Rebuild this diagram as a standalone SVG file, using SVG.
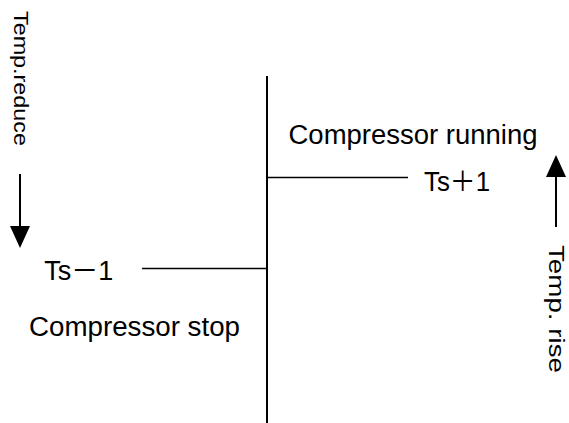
<svg xmlns="http://www.w3.org/2000/svg" width="569" height="423" viewBox="0 0 569 423">
  <style>
    .t { font-family: "Liberation Sans", "Noto Sans CJK SC", sans-serif; font-size: 27px; fill: #000; }
    .v { font-family: "Liberation Sans", sans-serif; fill: #000; }
    .ln { stroke: #000; stroke-width: 1.6; fill: none; }
    .ax { stroke: #000; stroke-width: 2; fill: none; }
  </style>
  <defs>
    <marker id="head" markerUnits="userSpaceOnUse" markerWidth="22" markerHeight="20" refX="12" refY="10" orient="auto">
      <path d="M0,0 L22,10 L0,20 Z" fill="#000"/>
    </marker>
  </defs>
  <rect width="569" height="423" fill="#fff"/>

  <g id="connectors">
    <line id="axis" class="ax" x1="267" y1="76" x2="267" y2="423"/>
    <line id="upper-threshold" class="ln" x1="267" y1="177.5" x2="408" y2="177.5"/>
    <line id="lower-threshold" class="ln" x1="142" y1="268.5" x2="267" y2="268.5"/>
    <line id="arrow-reduce" class="ax" x1="20" y1="174" x2="20" y2="238" marker-end="url(#head)"/>
    <line id="arrow-rise" class="ax" x1="556" y1="227" x2="556" y2="165" marker-end="url(#head)"/>
  </g>

  <g id="temp-reduce">
    <text class="v" font-size="21" transform="translate(14,11) rotate(90)" textLength="135" lengthAdjust="spacingAndGlyphs">Temp.reduce</text>
  </g>
  <g id="temp-rise">
    <text class="v" font-size="22" transform="translate(549,245) rotate(90)" textLength="128" lengthAdjust="spacingAndGlyphs">Temp. rise</text>
  </g>
  <g id="compressor-running">
    <text class="t" x="288.5" y="143.5" textLength="249" lengthAdjust="spacingAndGlyphs">Compressor running</text>
  </g>
  <g id="ts-plus">
    <text class="t" x="424" y="191" textLength="66" lengthAdjust="spacingAndGlyphs">Ts＋1</text>
  </g>
  <g id="ts-minus">
    <text class="t" x="44.3" y="280" textLength="69" lengthAdjust="spacingAndGlyphs">Ts－1</text>
  </g>
  <g id="compressor-stop">
    <text class="t" x="29" y="336" textLength="211" lengthAdjust="spacingAndGlyphs">Compressor stop</text>
  </g>
</svg>
